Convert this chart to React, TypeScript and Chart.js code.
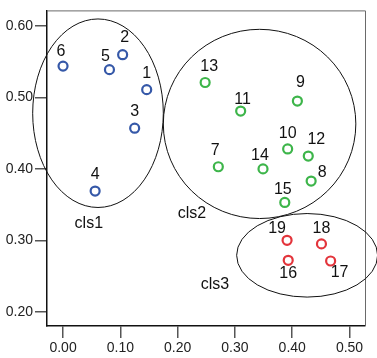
import React, { useEffect, useRef } from "react";
import { Chart, registerables } from "chart.js";

Chart.register(...registerables);

// ---- data ----
const cls1Ids = [1, 2, 3, 4, 5, 6];
const cls1X = [0.146, 0.104, 0.125, 0.056, 0.081, 0.0];
const cls1Y = [0.511, 0.56, 0.457, 0.369, 0.539, 0.544];

const cls2Ids = [7, 8, 9, 10, 11, 12, 13, 14, 15];
const cls2X = [0.271, 0.433, 0.409, 0.392, 0.31, 0.428, 0.248, 0.349, 0.387];
const cls2Y = [0.403, 0.383, 0.495, 0.428, 0.481, 0.418, 0.521, 0.4, 0.353];

const cls3Ids = [16, 17, 18, 19];
const cls3X = [0.393, 0.467, 0.451, 0.391];
const cls3Y = [0.272, 0.271, 0.295, 0.3];

const xTicks = [0.0, 0.1, 0.2, 0.3, 0.4, 0.5];
const yTicks = [0.2, 0.3, 0.4, 0.5, 0.6];

const clusterNames = ["cls1", "cls2", "cls3"];
const ellipseCX = [0.061, 0.343, 0.426];
const ellipseCY = [0.478, 0.463, 0.279];
const ellipseRX = [0.114, 0.168, 0.123];
const ellipseRY = [0.132, 0.1325, 0.0585];
const clusterLabelX = [0.045, 0.225, 0.265];
const clusterLabelY = [0.323, 0.338, 0.238];

// ---- styling / label placement (pixels) ----
const labelOffsets: Record<number, [number, number]> = {
  1: [0, -16], 2: [2, -17], 3: [0, -17], 4: [0, -16], 5: [-4, -13], 6: [-2, -15],
  7: [-3, -16], 8: [11, -8], 9: [3, -18], 10: [0, -15], 11: [2, -11], 12: [8, -16],
  13: [4, -16], 14: [-3, -13], 15: [-2, -13],
  16: [0, 13], 17: [9, 12], 18: [0, -15], 19: [-10, -12],
};

const FONT = "'Liberation Sans', Arial, sans-serif";
const BLUE = "#3558a8";
const GREEN = "#3db54a";
const RED = "#e3343b";

const toPts = (xs: number[], ys: number[]) => xs.map((x, i) => ({ x, y: ys[i] }));

const annotPlugin = {
  id: "annot",
  beforeDatasetsDraw(chart: any) {
    const { ctx, scales } = chart;
    const xs = scales.x, ys = scales.y;
    ctx.save();
    // frame top/right
    const a = chart.chartArea;
    ctx.strokeStyle = "#6a6a6a";
    ctx.lineWidth = 1;
    ctx.beginPath();
    ctx.moveTo(a.left, a.top + 0.5);
    ctx.lineTo(a.right + 0.5, a.top + 0.5);
    ctx.lineTo(a.right + 0.5, a.bottom);
    ctx.stroke();
    // ellipses
    ctx.strokeStyle = "#111";
    ctx.lineWidth = 1;
    for (let i = 0; i < ellipseCX.length; i++) {
      const cx = xs.getPixelForValue(ellipseCX[i]);
      const cy = ys.getPixelForValue(ellipseCY[i]);
      const rx = Math.abs(xs.getPixelForValue(ellipseCX[i] + ellipseRX[i]) - cx);
      const ry = Math.abs(ys.getPixelForValue(ellipseCY[i] + ellipseRY[i]) - cy);
      ctx.beginPath();
      ctx.ellipse(cx, cy, rx, ry, 0, 0, Math.PI * 2);
      ctx.stroke();
    }
    // cluster names
    ctx.fillStyle = "#111";
    ctx.font = `16px ${FONT}`;
    ctx.textAlign = "center";
    ctx.textBaseline = "middle";
    for (let i = 0; i < clusterNames.length; i++) {
      ctx.fillText(
        clusterNames[i],
        xs.getPixelForValue(clusterLabelX[i]),
        ys.getPixelForValue(clusterLabelY[i])
      );
    }
    ctx.restore();
  },
  afterDatasetsDraw(chart: any) {
    const { ctx } = chart;
    ctx.save();
    ctx.fillStyle = "#111";
    ctx.font = `16px ${FONT}`;
    ctx.textAlign = "center";
    ctx.textBaseline = "middle";
    chart.data.datasets.forEach((ds: any, di: number) => {
      const meta = chart.getDatasetMeta(di);
      meta.data.forEach((el: any, i: number) => {
        const id = ds.ids[i];
        const off = labelOffsets[id] || [0, -15];
        ctx.fillText(String(id), el.x + off[0], el.y + off[1]);
      });
    });
    ctx.restore();
  },
};

export default function App() {
  const ref = useRef<HTMLCanvasElement>(null);
  useEffect(() => {
    document.body.style.margin = "0";
    const chart = new Chart(ref.current!, {
      type: "scatter",
      data: {
        datasets: [
          { ids: cls1Ids, data: toPts(cls1X, cls1Y), borderColor: BLUE } as any,
          { ids: cls2Ids, data: toPts(cls2X, cls2Y), borderColor: GREEN } as any,
          { ids: cls3Ids, data: toPts(cls3X, cls3Y), borderColor: RED } as any,
        ].map((d: any) => ({
          ...d,
          backgroundColor: "#fff",
          pointRadius: 4.5,
          pointBorderWidth: 2.2,
          clip: false,
        })),
      },
      options: {
        responsive: false,
        animation: false,
        events: [],
        layout: { padding: { top: 5, right: 12, left: 0, bottom: 0 } },
        plugins: { legend: { display: false }, tooltip: { enabled: false } },
        scales: {
          x: {
            type: "linear",
            min: -0.028,
            max: 0.527,
            afterBuildTicks: (s: any) => {
              s.ticks = xTicks.map((v) => ({ value: v }));
            },
            afterFit: (s: any) => {
              s.height = 32;
            },
            ticks: {
              callback: (v: any) => Number(v).toFixed(2),
              color: "#222",
              font: { family: FONT, size: 14 },
              padding: 2,
              maxRotation: 0,
              autoSkip: false,
            },
            grid: { drawOnChartArea: false, drawTicks: true, tickLength: 12, tickColor: "#555", lineWidth: 1.5 },
            border: { color: "#111", width: 1.5 },
          },
          y: {
            type: "linear",
            min: 0.18,
            max: 0.622,
            afterBuildTicks: (s: any) => {
              s.ticks = yTicks.map((v) => ({ value: v }));
            },
            afterFit: (s: any) => {
              s.width = 47;
            },
            ticks: {
              callback: (v: any) => Number(v).toFixed(2),
              color: "#222",
              font: { family: FONT, size: 14 },
              padding: 2,
              autoSkip: false,
            },
            grid: { drawOnChartArea: false, drawTicks: true, tickLength: 12, tickColor: "#555", lineWidth: 1.5 },
            border: { color: "#111", width: 1.5 },
          },
        },
      },
      plugins: [annotPlugin],
    });
    return () => chart.destroy();
  }, []);
  return (
    <div style={{ width: 377, height: 358 }}>
      <canvas ref={ref} width={377} height={358} style={{ display: "block" }} />
    </div>
  );
}
